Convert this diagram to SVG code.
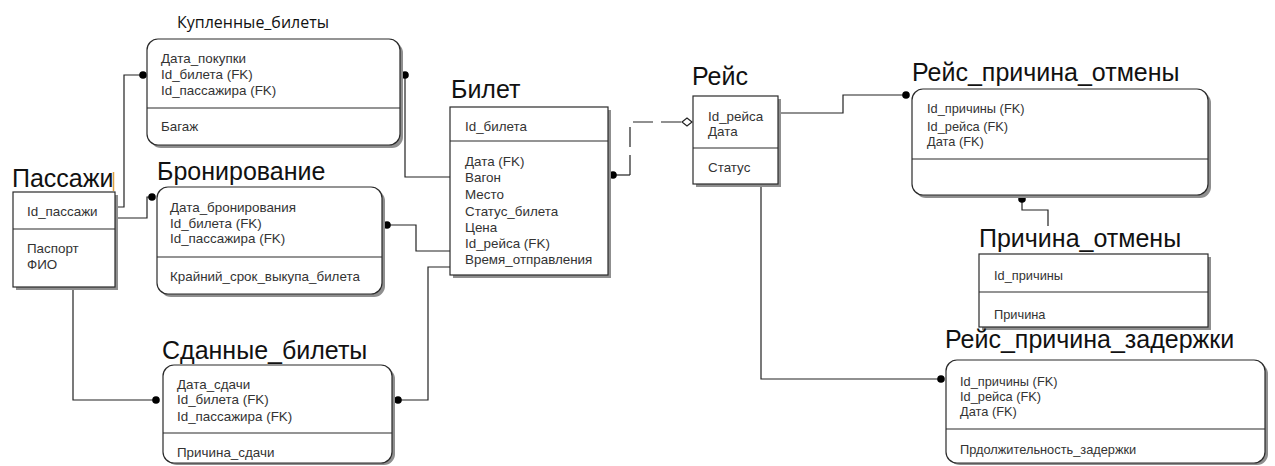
<svg xmlns="http://www.w3.org/2000/svg" width="1275" height="466" viewBox="0 0 1275 466">
<style>
.bg{fill:#ffffff}
.box{fill:#ffffff;stroke:#2a2a2a;stroke-width:1.2}
.sh{fill:#8f8f8f}
.div{stroke:#2a2a2a;stroke-width:1.2}
.title{font-family:"Liberation Sans",Arial,sans-serif;font-size:25px;fill:#111}
.t1{font-family:"Open Sans","Liberation Sans",sans-serif;font-size:16px;fill:#111}
.a{font-family:"Liberation Sans",Arial,sans-serif;font-size:13.4px;fill:#333}
.b{font-family:"Liberation Sans",Arial,sans-serif;font-size:12.8px;fill:#333}
.ln{fill:none;stroke:#222;stroke-width:1.2}
.dash{fill:none;stroke:#222;stroke-width:1.2;stroke-dasharray:20 8}
.dot{fill:#000}
</style>
<rect class="bg" x="0" y="0" width="1275" height="466"/>

<g id="connectors">
  <polyline class="ln" points="115,207 124,207 124,75 142,75"/>
  <circle class="dot" cx="143" cy="75" r="3.8"/>
  <polyline class="ln" points="115,218 147,218 147,197 152,197"/>
  <circle class="dot" cx="152" cy="197" r="3.8"/>
  <polyline class="ln" points="405,75 405,177 450,177"/>
  <circle class="dot" cx="405" cy="75" r="3.8"/>
  <polyline class="ln" points="387,225 416,225 416,251 450,251"/>
  <circle class="dot" cx="387" cy="225" r="3.8"/>
  <polyline class="ln" points="73,287 73,400 155,400"/>
  <circle class="dot" cx="156" cy="400" r="3.8"/>
  <polyline class="ln" points="398,400 428,400 428,267 450,267"/>
  <circle class="dot" cx="398" cy="400" r="3.8"/>
  <polyline class="ln" points="613,175 630,175"/>
  <polyline class="dash" points="630,175 630,122 682,122"/>
  <circle class="dot" cx="613" cy="175" r="3.8"/>
  <polygon points="682,122 687,118 692,122 687,126" fill="#fff" stroke="#222" stroke-width="1.2"/>
  <polyline class="ln" points="778,113 843,113 843,95 906,95"/>
  <circle class="dot" cx="906" cy="95" r="3.8"/>
  <polyline class="ln" points="1022,199 1022,210 1048,210 1048,226"/>
  <circle class="dot" cx="1022" cy="199" r="3.8"/>
  <polyline class="ln" points="761,184 761,379 940,379"/>
  <circle class="dot" cx="941" cy="379" r="3.8"/>
</g>

<g id="kuplennye">
  <text class="t1" x="177" y="28">Купленные_билеты</text>
  <rect class="sh" x="150" y="42" width="253" height="106" rx="11"/>
  <rect class="box" x="147" y="39" width="253" height="106" rx="11"/>
  <line class="div" x1="147" y1="108" x2="400" y2="108"/>
  <text class="a" x="161" y="63">Дата_покупки</text>
  <text class="a" x="161" y="79">Id_билета (FK)</text>
  <text class="a" x="161" y="95">Id_пассажира (FK)</text>
  <text class="a" x="161" y="131">Багаж</text>
</g>

<g id="passazhi">
  <text class="title" x="12" y="187">Пассажи</text>
  <line x1="113.5" y1="172" x2="113.5" y2="191" stroke="#e0a040" stroke-width="1.5"/>
  <rect class="sh" x="16" y="195" width="102" height="95"/>
  <rect class="box" x="13" y="192" width="102" height="95"/>
  <line class="div" x1="13" y1="229" x2="115" y2="229"/>
  <text class="a" x="27" y="216">Id_пассажи</text>
  <text class="a" x="27" y="253">Паспорт</text>
  <text class="a" x="27" y="269">ФИО</text>
</g>

<g id="bronirovanie">
  <text class="title" x="157" y="180">Бронирование</text>
  <rect class="sh" x="160" y="190" width="225" height="107" rx="11"/>
  <rect class="box" x="157" y="187" width="225" height="107" rx="11"/>
  <line class="div" x1="157" y1="257" x2="382" y2="257"/>
  <text class="a" x="170" y="212">Дата_бронирования</text>
  <text class="a" x="170" y="228">Id_билета (FK)</text>
  <text class="a" x="170" y="243">Id_пассажира (FK)</text>
  <text class="a" x="170" y="281">Крайний_срок_выкупа_билета</text>
</g>

<g id="sdannye">
  <text class="title" x="162" y="359">Сданные_билеты</text>
  <rect class="sh" x="166" y="368" width="229" height="97" rx="11"/>
  <rect class="box" x="163" y="365" width="229" height="98" rx="11"/>
  <line class="div" x1="163" y1="433" x2="392" y2="433"/>
  <text class="a" x="177" y="389">Дата_сдачи</text>
  <text class="a" x="177" y="404">Id_билета (FK)</text>
  <text class="a" x="177" y="421">Id_пассажира (FK)</text>
  <text class="a" x="177" y="457">Причина_сдачи</text>
</g>

<g id="bilet">
  <text class="title" x="451" y="98">Билет</text>
  <rect class="sh" x="453" y="110" width="158" height="168"/>
  <rect class="box" x="450" y="107" width="158" height="168"/>
  <line class="div" x1="450" y1="141" x2="608" y2="141"/>
  <text class="a" x="465" y="131">Id_билета</text>
  <text class="a" x="465" y="166">Дата (FK)</text>
  <text class="a" x="465" y="182">Вагон</text>
  <text class="a" x="465" y="199">Место</text>
  <text class="a" x="465" y="216">Статус_билета</text>
  <text class="a" x="465" y="232">Цена</text>
  <text class="a" x="465" y="248">Id_рейса (FK)</text>
  <text class="a" x="465" y="264">Время_отправления</text>
</g>

<g id="reys">
  <text class="title" x="692" y="85">Рейс</text>
  <rect class="sh" x="696" y="99" width="85" height="88"/>
  <rect class="box" x="693" y="96" width="85" height="88"/>
  <line class="div" x1="693" y1="148" x2="778" y2="148"/>
  <text class="a" x="708" y="121">Id_рейса</text>
  <text class="a" x="708" y="136">Дата</text>
  <text class="a" x="708" y="172">Статус</text>
</g>

<g id="reys_prichina_otmeny">
  <text class="title" x="912" y="81">Рейс_причина_отмены</text>
  <rect class="sh" x="915" y="92" width="296" height="106" rx="11"/>
  <rect class="box" x="912" y="89" width="296" height="106" rx="11"/>
  <line class="div" x1="912" y1="159" x2="1208" y2="159"/>
  <text class="b" x="927" y="113">Id_причины (FK)</text>
  <text class="b" x="927" y="131">Id_рейса (FK)</text>
  <text class="b" x="927" y="146">Дата (FK)</text>
</g>

<g id="prichina_otmeny">
  <text class="title" x="979" y="247">Причина_отмены</text>
  <rect class="sh" x="982" y="257" width="229" height="73"/>
  <rect class="box" x="979" y="254" width="229" height="73"/>
  <line class="div" x1="979" y1="292" x2="1208" y2="292"/>
  <text class="b" x="994" y="280">Id_причины</text>
  <text class="b" x="994" y="319">Причина</text>
</g>

<g id="reys_prichina_zaderzhki">
  <text class="title" x="945" y="348">Рейс_причина_задержки</text>
  <rect class="sh" x="949" y="363" width="319" height="102" rx="11"/>
  <rect class="box" x="946" y="360" width="319" height="103" rx="11"/>
  <line class="div" x1="946" y1="429" x2="1265" y2="429"/>
  <text class="b" x="960" y="386">Id_причины (FK)</text>
  <text class="b" x="960" y="401">Id_рейса (FK)</text>
  <text class="b" x="960" y="416">Дата (FK)</text>
  <text class="b" x="960" y="454">Прдолжительность_задержки</text>
</g>
</svg>
